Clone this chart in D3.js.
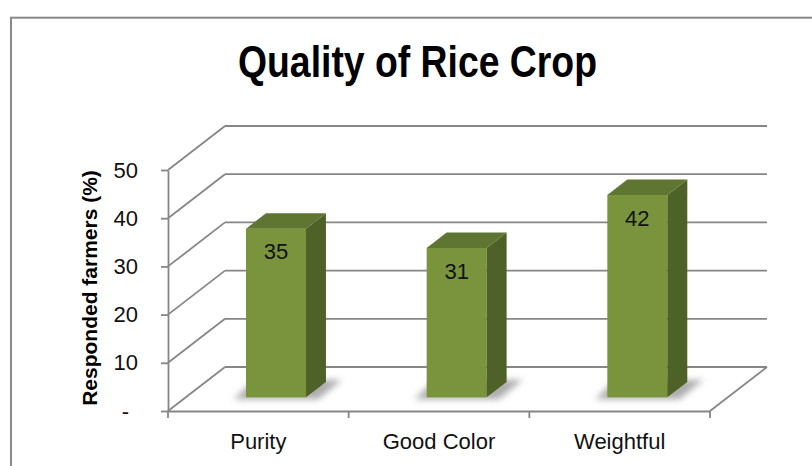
<!DOCTYPE html>
<html>
<head>
<meta charset="utf-8">
<script src="https://cdn.jsdelivr.net/npm/d3@7"></script>
<style>
  html, body { margin: 0; padding: 0; background: #fff; }
  text { font-family: "Liberation Sans", Arial, sans-serif; }
</style>
</head>
<body>
<div id="chart"></div>
<script>
// survey results
const categories = ["Purity", "Good Color", "Weightful"];
const values = [35, 31, 42];
const yTicks = [0, 10, 20, 30, 40, 50];

const width = 812, height = 466;

// front plane of the 3d box and the depth offset of the back wall
const plot = { left: 168, right: 710, top: 170, bottom: 411 };
const depth = { dx: 57, dy: -44 };
const barDepth = [0.31, 0.66];   // bars sit in this slice of the depth
const barWidth = 60;

const gridColor = "#868686";

const svg = d3.select("#chart").append("svg")
    .attr("width", width)
    .attr("height", height);

// chart area border
svg.append("rect")
    .attr("x", 11)
    .attr("y", 17.7)
    .attr("width", 900)
    .attr("height", 600)
    .attr("fill", "#fff")
    .attr("stroke", "#898989")
    .attr("stroke-width", 2);

// title
svg.append("text")
    .attr("x", 417.5)
    .attr("y", 77)
    .attr("text-anchor", "middle")
    .attr("textLength", 359)
    .attr("lengthAdjust", "spacingAndGlyphs")
    .style("font-family", "'Liberation Sans Narrow', 'Arial Narrow', 'Liberation Sans', Arial, sans-serif")
    .style("font-size", "45px")
    .style("font-weight", "bold")
    .text("Quality of Rice Crop");

// scales
const x = d3.scaleBand()
    .domain(categories)
    .range([plot.left, plot.right]);

const y = d3.scaleLinear()
    .domain([0, 50])
    .range([plot.bottom, plot.top]);

// move a point back into the box by fraction t of the depth
function back(px, py, t) {
  return [px + depth.dx * t, py + depth.dy * t];
}

const grid = svg.append("g")
    .attr("stroke", gridColor)
    .attr("stroke-width", 1.8)
    .attr("fill", "none");

// back wall gridlines
yTicks.forEach(function(v) {
  const a = back(plot.left, y(v), 1);
  const b = back(plot.right, y(v), 1);
  grid.append("line")
      .attr("x1", a[0]).attr("y1", a[1])
      .attr("x2", b[0]).attr("y2", b[1]);
  // side wall diagonals
  grid.append("line")
      .attr("x1", plot.left).attr("y1", y(v))
      .attr("x2", a[0]).attr("y2", a[1]);
});

// floor right edge
const fr = back(plot.right, plot.bottom, 1);
grid.append("line")
    .attr("x1", plot.right).attr("y1", plot.bottom)
    .attr("x2", fr[0]).attr("y2", fr[1]);

// soft shadow filter
const defs = svg.append("defs");
defs.append("filter")
    .attr("id", "shadow")
    .attr("x", "-50%").attr("y", "-50%")
    .attr("width", "200%").attr("height", "200%")
  .append("feGaussianBlur")
    .attr("stdDeviation", 3);

const ddx = depth.dx * (barDepth[1] - barDepth[0]);
const ddy = depth.dy * (barDepth[1] - barDepth[0]);

const bars = categories.map(function(c, i) {
  const x0 = x(c) + (x.bandwidth() - barWidth) / 2;
  const f = back(x0, plot.bottom, barDepth[0]);
  const top = back(x0, y(values[i]), barDepth[0])[1];
  return { name: c, value: values[i], fx: f[0], by: f[1], ty: top };
});

// shadows on the floor
svg.selectAll(".bar-shadow")
    .data(bars)
    .enter().append("polygon")
    .attr("class", "bar-shadow")
    .attr("points", function(d) {
      const l = d.fx - 12, r = d.fx + barWidth + 12;
      return [
        [l, d.by + 2], [r, d.by + 2],
        [r + ddx + 4, d.by + ddy - 2], [l + ddx, d.by + ddy - 2]
      ].map(function(p) { return p.join(","); }).join(" ");
    })
    .attr("fill", "#6a6a6a")
    .attr("fill-opacity", 0.55)
    .attr("filter", "url(#shadow)");

// bar front faces
svg.selectAll(".bar-front")
    .data(bars)
    .enter().append("rect")
    .attr("class", "bar-front")
    .attr("x", function(d) { return d.fx; })
    .attr("y", function(d) { return d.ty; })
    .attr("width", barWidth)
    .attr("height", function(d) { return d.by - d.ty; })
    .attr("fill", "#7a943d");

// bar side faces
svg.selectAll(".bar-side")
    .data(bars)
    .enter().append("polygon")
    .attr("class", "bar-side")
    .attr("points", function(d) {
      const r = d.fx + barWidth;
      return [[r, d.ty], [r + ddx, d.ty + ddy], [r + ddx, d.by + ddy], [r, d.by]]
        .map(function(p) { return p.join(","); }).join(" ");
    })
    .attr("fill", "#4e6127");

// bar tops
svg.selectAll(".bar-top")
    .data(bars)
    .enter().append("polygon")
    .attr("class", "bar-top")
    .attr("points", function(d) {
      const r = d.fx + barWidth;
      return [[d.fx, d.ty], [d.fx + ddx, d.ty + ddy], [r + ddx, d.ty + ddy], [r, d.ty]]
        .map(function(p) { return p.join(","); }).join(" ");
    })
    .attr("fill", "#5e7631");

// value labels
svg.selectAll(".bar-label")
    .data(bars)
    .enter().append("text")
    .attr("class", "bar-label")
    .attr("x", function(d) { return d.fx + barWidth / 2; })
    .attr("y", function(d) { return d.ty + 23; })
    .attr("dy", "0.35em")
    .attr("text-anchor", "middle")
    .style("font-size", "22px")
    .attr("fill", "#111")
    .text(function(d) { return d.value; });

// y axis
const yAxis = d3.axisLeft(y)
    .tickValues(yTicks)
    .tickSize(7)
    .tickSizeOuter(0)
    .tickPadding(23)
    .tickFormat(function(d) { return d === 0 ? "-" : d; });

const yg = svg.append("g")
    .attr("transform", "translate(" + plot.left + ",0)")
    .call(yAxis);

yg.select(".domain").attr("stroke", gridColor).attr("stroke-width", 1.8);
yg.selectAll(".tick line").attr("stroke", gridColor).attr("stroke-width", 1.8);
yg.selectAll(".tick text")
    .style("font-size", "22px")
    .style("font-family", "'Liberation Sans', Arial, sans-serif")
    .attr("fill", "#111")
    .attr("dx", function(d) { return d === 0 ? -9 : 0; });

// x axis (labels centred under each category)
const xAxis = d3.axisBottom(x)
    .tickSize(0)
    .tickPadding(22);

const xg = svg.append("g")
    .attr("transform", "translate(0," + plot.bottom + ")")
    .call(xAxis);

xg.select(".domain").attr("stroke", gridColor).attr("stroke-width", 1.8);
xg.selectAll(".tick text")
    .style("font-size", "22px")
    .style("font-family", "'Liberation Sans', Arial, sans-serif")
    .attr("fill", "#111");

// x axis tick marks between categories
const bounds = categories.map(function(c) { return x(c); }).concat([plot.right]);
xg.selectAll(".cat-tick")
    .data(bounds)
    .enter().append("line")
    .attr("class", "cat-tick")
    .attr("x1", function(d) { return d; })
    .attr("x2", function(d) { return d; })
    .attr("y1", 0)
    .attr("y2", 7)
    .attr("stroke", gridColor)
    .attr("stroke-width", 1.8);

// y axis title
svg.append("text")
    .attr("transform", "translate(97,288) rotate(-90)")
    .attr("text-anchor", "middle")
    .style("font-size", "21px")
    .style("font-weight", "bold")
    .text("Responded farmers (%)");
</script>
</body>
</html>
